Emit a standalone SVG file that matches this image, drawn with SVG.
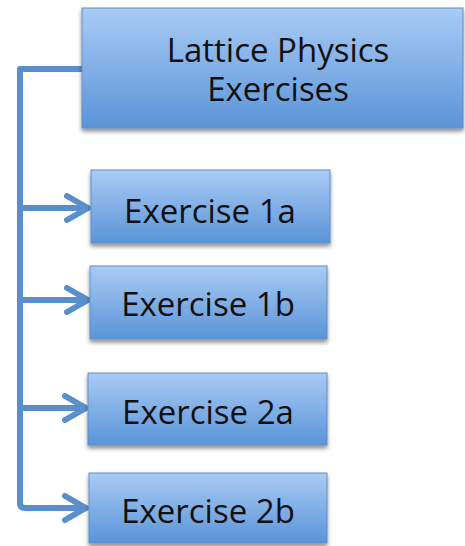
<svg xmlns="http://www.w3.org/2000/svg" width="465" height="546" viewBox="0 0 465 546">
<defs>
<linearGradient id="g" x1="0" y1="0" x2="0" y2="1">
<stop offset="0" stop-color="#a9cbf5"/>
<stop offset="1" stop-color="#5a94d8"/>
</linearGradient>
<filter id="sh" x="-10%" y="-10%" width="120%" height="130%">
<feGaussianBlur in="SourceAlpha" stdDeviation="2"/>
<feOffset dy="3" result="b"/>
<feComponentTransfer><feFuncA type="linear" slope="0.45"/></feComponentTransfer>
<feMerge><feMergeNode/><feMergeNode in="SourceGraphic"/></feMerge>
</filter>
<marker id="ah" viewBox="0 0 28 30" refX="25" refY="15" markerWidth="28" markerHeight="30" markerUnits="userSpaceOnUse" orient="auto">
<path d="M4,3 L25,15 L4,27" fill="none" stroke="#5b8fcb" stroke-width="6" stroke-linecap="round" stroke-linejoin="round"/>
</marker>
</defs>
<style>
.box{fill:url(#g);stroke:#5f8fc9;stroke-width:1;filter:url(#sh)}
.t{font-family:"Open Sans","Liberation Sans",sans-serif;font-size:33px;fill:#111;text-anchor:middle}
.c{fill:none;stroke:#5b8fcb;stroke-width:6;stroke-linejoin:round}
</style>
<g id="connectors">
<path class="c" d="M83,69 L20,69 L20,503 Q20,508 25,508 L86,508" marker-end="url(#ah)"/>
<path class="c" d="M20,208 L88,208" marker-end="url(#ah)"/>
<path class="c" d="M20,300 L88,300" marker-end="url(#ah)"/>
<path class="c" d="M20,408 L86,408" marker-end="url(#ah)"/>
</g>
<g id="root">
<rect class="box" x="82" y="8" width="381" height="120"/>
<text class="t" x="278" y="62">Lattice Physics<tspan x="278" dy="39">Exercises</tspan></text>
</g>
<g id="ex1a">
<rect class="box" x="91" y="170" width="239" height="73"/>
<text class="t" x="210" y="223">Exercise 1a</text>
</g>
<g id="ex1b">
<rect class="box" x="90" y="266" width="237" height="73"/>
<text class="t" x="208" y="316">Exercise 1b</text>
</g>
<g id="ex2a">
<rect class="box" x="88" y="373" width="239" height="72"/>
<text class="t" x="208" y="424">Exercise 2a</text>
</g>
<g id="ex2b">
<rect class="box" x="89" y="473" width="238" height="70"/>
<text class="t" x="208" y="523">Exercise 2b</text>
</g>
</svg>
